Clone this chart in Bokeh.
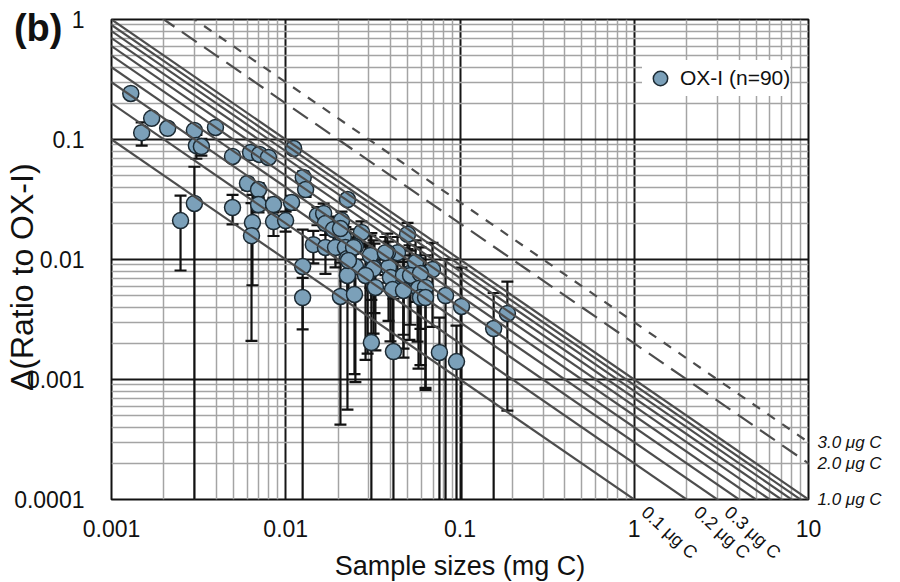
import math
from bokeh.plotting import figure
from bokeh.models import (FixedTicker, CustomJSTickFormatter, Legend, LegendItem,
                          ColumnDataSource, LogAxis)
from bokeh.embed import file_html
from bokeh.resources import INLINE

# ---------------- data ----------------
sample_mg = [
    0.00129, 0.00149, 0.00170, 0.00210, 0.00299, 0.00395, 0.00307, 0.00328, 0.00249, 0.00299,
    0.00495, 0.00495, 0.00603, 0.00628, 0.00707, 0.00796, 0.00644, 0.00636, 0.00698, 0.00698,
    0.00851, 0.00851, 0.00998, 0.0108, 0.0111, 0.0126, 0.0130, 0.0125, 0.0125, 0.0152,
    0.0165, 0.0169, 0.0188, 0.0209, 0.0214, 0.0272, 0.0144, 0.0169, 0.0193, 0.0220,
    0.0251, 0.0500, 0.0438, 0.0383, 0.0310, 0.0226, 0.0251, 0.0323, 0.0226, 0.0295,
    0.0389, 0.0399, 0.0513, 0.0474, 0.0571, 0.0226, 0.0206, 0.0245, 0.0306, 0.0373,
    0.0229, 0.0319, 0.0556, 0.0695, 0.0287, 0.0474, 0.0520, 0.0593, 0.0327, 0.0410,
    0.0578, 0.0634, 0.0206, 0.0248, 0.0593, 0.0634, 0.0826, 0.102, 0.156, 0.187,
    0.0310, 0.0415, 0.0762, 0.0955, 0.0474,
]
delta_ratio = [
    0.242, 0.114, 0.150, 0.124, 0.119, 0.126, 0.0891, 0.0874, 0.0211, 0.0293,
    0.0722, 0.0271, 0.0430, 0.0779, 0.0750, 0.0708, 0.0203, 0.0158, 0.0383, 0.0287,
    0.0287, 0.0207, 0.0211, 0.0299, 0.0841, 0.0483, 0.0383, 0.00875, 0.00482, 0.0233,
    0.0242, 0.0200, 0.0178, 0.0211, 0.0153, 0.0168, 0.0133, 0.0126, 0.0126, 0.0126,
    0.0128, 0.0162, 0.0114, 0.0114, 0.0106, 0.0102, 0.00875, 0.00858, 0.00736, 0.00764,
    0.00858, 0.00708, 0.00764, 0.00631, 0.00607, 0.0316, 0.0181, 0.0126, 0.0108, 0.0114,
    0.0098, 0.00841, 0.00944, 0.00825, 0.00736, 0.00736, 0.00736, 0.00764, 0.00585, 0.00562,
    0.00573, 0.00585, 0.00492, 0.00511, 0.00482, 0.00482, 0.00501, 0.00406, 0.00266, 0.00355,
    0.00203, 0.00171, 0.00168, 0.00141, 0.00552,
]
delta_err = [
    0.012, 0.025, 0.010, 0.008, 0.010, 0.008, 0.020, 0.014, 0.013, 0.030,
    0.005, 0.0075, 0.005, 0.006, 0.006, 0.005, 0.0142, 0.0137, 0.005, 0.004,
    0.004, 0.005, 0.004, 0.004, 0.008, 0.006, 0.005, 0.009, 0.0022, 0.004,
    0.005, 0.004, 0.005, 0.004, 0.004, 0.004, 0.004, 0.005, 0.004, 0.006,
    0.005, 0.004, 0.004, 0.005, 0.006, 0.005, 0.0078, 0.005, 0.0068, 0.006,
    0.0055, 0.005, 0.0055, 0.0045, 0.004, 0.003, 0.004, 0.004, 0.005, 0.004,
    0.005, 0.006, 0.005, 0.0055, 0.0059, 0.005, 0.0045, 0.005, 0.0041, 0.004,
    0.0045, 0.005, 0.0045, 0.004, 0.0035, 0.004, 0.005, 0.0045, 0.0026, 0.0030,
    0.0035, 0.003, 0.0016, 0.0014, 0.004,
]

blank_ug_solid = [0.1, 0.2, 0.3, 0.4, 0.5, 0.6, 0.7, 0.8, 0.9, 1.0]
blank_ug_dashed = [2.0, 3.0]
rotated_labels_ug = [0.1, 0.2, 0.3]
right_labels_ug = [1.0, 2.0, 3.0]

x_major = [0.001, 0.01, 0.1, 1, 10]
y_major = [0.0001, 0.001, 0.01, 0.1, 1]

FONT = "Liberation Sans"
INK = "#111111"
X_MIN, X_MAX = 0.001, 10
Y_MIN, Y_MAX = 0.0001, 1
FRAME_W, FRAME_H = 697, 480

x_minor = [m * d for d in x_major[:-1] for m in range(2, 10)]
y_minor = [m * d for d in y_major[:-1] for m in range(2, 10)]

p = figure(x_axis_type="log", y_axis_type="log",
           x_range=(X_MIN, X_MAX), y_range=(Y_MIN, Y_MAX),
           frame_width=FRAME_W, frame_height=FRAME_H,
           min_border_left=111, min_border_right=84, min_border_top=19, min_border_bottom=83,
           output_backend="svg", toolbar_location=None)
p.background_fill_color = "white"
p.border_fill_color = "white"
p.outline_line_color = INK
p.outline_line_width = 2


def plain_axis(ax):
    ax.axis_line_color = None
    ax.major_tick_line_color = None
    ax.minor_tick_line_color = None
    ax.major_label_text_font = FONT
    ax.major_label_text_color = INK
    ax.axis_label_text_font = FONT
    ax.axis_label_text_color = INK
    ax.axis_label_text_font_style = "normal"


def lookup_formatter(vals, labs):
    return CustomJSTickFormatter(
        args=dict(vals=vals, labs=labs),
        code="const i = vals.findIndex(v => Math.abs(v - tick) <= 1e-6 * Math.abs(v));"
             "return i >= 0 ? labs[i] : '';")


xt = FixedTicker(ticks=x_major, minor_ticks=x_minor)
yt = FixedTicker(ticks=y_major, minor_ticks=y_minor)
fmt = CustomJSTickFormatter(code="return tick >= 1 ? tick.toFixed(0) : String(Number(tick.toPrecision(1)));")
for ax, t in ((p.xaxis[0], xt), (p.yaxis[0], yt)):
    ax.ticker = t
    ax.formatter = fmt
    plain_axis(ax)
    ax.major_label_text_font_size = "23px"
p.xaxis[0].major_label_standoff = 14
p.yaxis[0].major_label_standoff = 21
# trailing no-break spaces move the visible title a little below the frame centre
p.yaxis[0].axis_label = "Δ(Ratio to OX-I)" + "\u00a0" * 4
p.yaxis[0].axis_label_text_font_size = "32px"
p.yaxis[0].axis_label_standoff = -29

p.xgrid.ticker = xt
p.ygrid.ticker = yt
for g in (p.xgrid, p.ygrid):
    g.grid_line_color = "#161616"
    g.grid_line_width = 2
    g.minor_grid_line_color = "#a4a4a4"
    g.minor_grid_line_width = 1.5

# error bars and points
lo = [y - e if y - e > 0 else Y_MIN / 100 for y, e in zip(delta_ratio, delta_err)]
hi = [y + e for y, e in zip(delta_ratio, delta_err)]
src = ColumnDataSource(dict(x=sample_mg, y=delta_ratio, lo=lo, hi=hi))
p.segment(x0="x", y0="lo", x1="x", y1="hi", source=src, line_color=INK, line_width=2.2)
p.scatter(x="x", y="hi", source=src, marker="dash", size=12, line_color=INK, line_width=2.2)
p.scatter(x="x", y="lo", source=src, marker="dash", size=12, line_color=INK, line_width=2.2)
pts = p.scatter(x="x", y="y", source=src, marker="circle", size=16,
                fill_color="#7ba0b9", line_color="#1c2a33", line_width=1.5)

# blank lines: Delta = m_blank / m_sample
x_ends = [X_MIN / 10, X_MAX * 10]
for c in blank_ug_solid:
    p.line(x=x_ends, y=[c / 1000 / xe for xe in x_ends], line_color="#4d4d4d", line_width=2.2)
p.line(x=x_ends, y=[blank_ug_dashed[0] / 1000 / xe for xe in x_ends],
       line_color="#4d4d4d", line_width=2.2, line_dash="18 9")
p.line(x=x_ends, y=[blank_ug_dashed[1] / 1000 / xe for xe in x_ends],
       line_color="#4d4d4d", line_width=2.2, line_dash="9 9")

# rotated labels just right of where the 0.1-0.3 ug lines meet the bottom axis
px_per_decade_x = FRAME_W / math.log10(X_MAX / X_MIN)
label_shift = 10 ** (10 / px_per_decade_x)       # ~10 px to the right
rot_ticks = [c / 1000 / Y_MIN * label_shift for c in rotated_labels_ug]
rot_axis = LogAxis(ticker=FixedTicker(ticks=rot_ticks, minor_ticks=[]),
                   formatter=lookup_formatter(rot_ticks, [f"{c} μg C" for c in rotated_labels_ug]))
plain_axis(rot_axis)
rot_axis.major_label_text_font_size = "18px"
rot_axis.major_label_orientation = -0.74
rot_axis.major_label_standoff = -36
rot_axis.axis_label = "Sample sizes (mg C)"
rot_axis.axis_label_text_font_size = "27px"
rot_axis.axis_label_standoff = -22
p.add_layout(rot_axis, "below")

# labels at the right end of the 1.0-3.0 ug lines
right_ticks = [c / 1000 / X_MAX for c in right_labels_ug]
right_axis = LogAxis(ticker=FixedTicker(ticks=right_ticks, minor_ticks=[]),
                     formatter=lookup_formatter(right_ticks, [f"{c:.1f} μg C" for c in right_labels_ug]))
plain_axis(right_axis)
right_axis.major_label_text_font_size = "17px"
right_axis.major_label_text_font_style = "italic"
right_axis.major_label_standoff = 3
p.add_layout(right_axis, "right")

# panel letter
px_per_decade_y = FRAME_H / math.log10(Y_MAX / Y_MIN)
b_tick = [Y_MAX / 10 ** (8 / px_per_decade_y)]    # ~8 px below the top edge
b_axis = LogAxis(ticker=FixedTicker(ticks=b_tick, minor_ticks=[]),
                 formatter=lookup_formatter(b_tick, ["(b)"]))
plain_axis(b_axis)
b_axis.major_label_text_font_size = "38px"
b_axis.major_label_text_font_style = "bold"
b_axis.major_label_standoff = -67
p.add_layout(b_axis, "left")

legend = Legend(items=[LegendItem(label="OX-I (n=90)", renderers=[pts])],
                location=(531, 403), label_text_font=FONT, label_text_font_size="21px",
                label_text_color=INK, glyph_width=36, glyph_height=36,
                label_standoff=2, padding=7, border_line_color=None,
                background_fill_color="white", background_fill_alpha=1.0)
p.add_layout(legend)

open("out.html", "w").write(file_html(p, INLINE))
